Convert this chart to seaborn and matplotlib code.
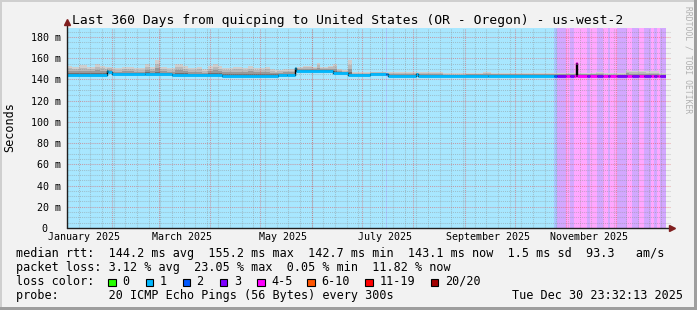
import numpy as np
import pandas as pd
import matplotlib
matplotlib.use("Agg")
import matplotlib.pyplot as plt
from matplotlib.patches import Rectangle
import seaborn as sns

# ---------------- data ----------------
end_time = pd.Timestamp("2025-12-30 23:32:13")
span_days = 360
start_time = end_time - pd.Timedelta(days=span_days)

# median rtt (ms) as step breakpoints: day offset from start, value
median_days = [0, 24, 24.8, 27, 47, 63, 93, 127, 132, 137, 137.6, 160, 169, 182,
               193, 210, 210.8, 253, 306, 306.6, 330, 355]
median_ms = [144.3, 148.0, 147.4, 145.0, 144.7, 144.0, 143.7, 144.2, 144.5, 150.5,
             147.8, 145.9, 144.0, 144.7, 143.3, 145.0, 143.5, 143.6, 155.2, 143.6,
             143.3, 143.1]

# upper edge of the smoke (ping spread), step breakpoints
smoke_days = [0, 3, 7, 12, 17, 20, 23, 27, 33, 40, 47, 50, 53, 56, 60, 65, 70, 73,
              78, 81, 85, 88, 91, 93, 100, 105, 109, 112, 119, 122, 125, 130, 137,
              142, 147, 150, 152, 157, 160, 162, 165, 169, 171, 182, 192, 222, 226,
              240, 250, 255, 272, 318, 322, 336, 338, 348, 356]
smoke_top = [153, 152, 154, 152, 155, 153, 152, 151, 152, 151, 155, 152, 158.5, 152,
             151, 155, 153, 151, 152, 150, 153, 155, 153, 151, 152, 151, 153, 151,
             152, 150, 149, 150, 152, 153, 152, 155.5, 152, 153, 155, 150, 149, 158,
             147.5, 147.5, 146.8, 147.5, 146.2, 146.4, 146.8, 146.4, 146.4, 147.2,
             146.2, 149.2, 148.4, 147.6, 146.2]

# packet-loss class runs (index into loss classes), start day of each run
loss_days = [0, 191.6, 192.2, 292.7, 294.5, 300, 302.5, 305, 312.5, 314.5, 318.5,
             322, 325, 326.5, 330.5, 336.5, 339.5, 343.5, 347, 351, 353, 354.5, 356.5]
loss_level = [1, 2, 1, 2, 3, 4, 3, 4, 3, 4, 3, 4, 3, 4, 3, 4, 3, 4, 3, 4, 3, 4, 3]

loss_labels = ["0", "1", "2", "3", "4-5", "6-10", "11-19", "20/20"]
loss_colors = ["#26ff00", "#00b8ff", "#0059ff", "#7e00ff", "#ff00ff", "#ff5500",
               "#ff0000", "#a10000"]

y_max = 189
y_ticks = [0, 20, 40, 60, 80, 100, 120, 140, 160, 180]

title = "Last 360 Days from quicping to United States (OR - Oregon) - us-west-2"
stat_lines = [
    "median rtt:  144.2 ms avg  155.2 ms max  142.7 ms min  143.1 ms now  1.5 ms sd  93.3   am/s",
    "packet loss: 3.12 % avg  23.05 % max  0.05 % min  11.82 % now",
    "loss color:",
    "probe:       20 ICMP Echo Pings (56 Bytes) every 300s",
]
stamp = "Tue Dec 30 23:32:13 2025"

# ---------------- style ----------------
sns.set_style("white")
plt.rcParams["font.family"] = ["DejaVu Sans Mono"]
plt.rcParams["text.color"] = "black"

W, H = 697, 310
fig = plt.figure(figsize=(W / 100, H / 100), dpi=100)
fig.patch.set_facecolor("#F2F2F2")

L, R, T, B = 67, 666, 27.5, 228
ax = fig.add_axes([L / W, 1 - B / H, (R - L) / W, (B - T) / H])
ax.set_facecolor("white")
for s in ax.spines.values():
    s.set_visible(False)
ax.set_xlim(0, span_days)
ax.set_ylim(0, y_max)


def light(c, a=0.34):
    rgb = np.array(matplotlib.colors.to_rgb(c))
    return tuple(1 - a * (1 - rgb))


# loss background bands
edges = list(loss_days) + [span_days]
for i, lvl in enumerate(loss_level):
    ax.axvspan(edges[i], edges[i + 1], color=light(loss_colors[lvl]), lw=0, zorder=0)

# smoke
bp2 = np.unique(np.concatenate([median_days, smoke_days, [span_days]]))
med2 = np.array(median_ms)[np.searchsorted(median_days, bp2, side="right") - 1]
top2 = np.array(smoke_top)[np.searchsorted(smoke_days, bp2, side="right") - 1]
top2 = np.maximum(top2, med2)
layers = [(1.0, 1.0, "#CFCFCF"), (0.7, 0.8, "#BABABA"), (0.42, 0.6, "#9A9A9A"),
          (0.2, 0.4, "#727272")]
for frac, below, col in layers:
    ax.fill_between(bp2, med2 - below, med2 + frac * (top2 - med2), step="post",
                    color=col, lw=0, zorder=1)

# grid (dotted, rrdtool-like)
dots = (0, (1, 1))
for yv in range(5, y_max, 5):
    if yv % 20 == 0:
        ax.axhline(yv, xmin=0, xmax=1.006, color="#DE4F4F", alpha=0.5, lw=0.75,
                   ls=dots, clip_on=False, zorder=3)
    else:
        ax.axhline(yv, xmin=0, xmax=1.006, color="#8F8F8F", alpha=0.45, lw=0.75,
                   ls=dots, clip_on=False, zorder=3)
to_day = lambda d: (d - start_time) / pd.Timedelta(days=1)
for d in pd.date_range(start_time.normalize(), end_time, freq="W-SUN"):
    x = to_day(d)
    if 0 < x < span_days:
        ax.axvline(x, color="#8F8F8F", alpha=0.45, lw=0.75, ls=dots, zorder=3)
for d in pd.date_range("2025-02-01", "2025-12-01", freq="MS"):
    ax.axvline(to_day(d), color="#DE4F4F", alpha=0.5, lw=0.75, ls=dots, zorder=3)

# median line: black steps underneath, loss-coloured flats on top
df = pd.DataFrame({"day": list(median_days) + [span_days],
                   "ms": list(median_ms) + [median_ms[-1]]})
sns.lineplot(data=df, x="day", y="ms", estimator=None, drawstyle="steps-post",
             color="black", lw=1.0, ax=ax, zorder=4)
bp = np.unique(np.concatenate([median_days, loss_days, [span_days]]))
s0, s1 = bp[:-1], bp[1:]
seg_val = np.array(median_ms)[np.searchsorted(median_days, s0, side="right") - 1]
seg_lvl = np.array(loss_level)[np.searchsorted(loss_days, s0, side="right") - 1]
ax.hlines(seg_val, s0, s1, colors=[loss_colors[l] for l in seg_lvl], lw=2.0, zorder=5)

# axes + arrows
ax.plot([0, 1.0105], [0, 0], transform=ax.transAxes, color="#1F1F1F", lw=1,
        clip_on=False, zorder=6)
ax.plot([0, 0], [0, 1.028], transform=ax.transAxes, color="#1F1F1F", lw=1,
        clip_on=False, zorder=6)
ax.plot([1.0105], [0], transform=ax.transAxes, marker=">", ms=4.5, color="#801F1F",
        clip_on=False, zorder=7)
ax.plot([0], [1.028], transform=ax.transAxes, marker="^", ms=4.5, color="#801F1F",
        clip_on=False, zorder=7)

# ticks
xt = [pd.Timestamp(2025, m, 15) for m in (1, 3, 5, 7, 9, 11)]
ax.set_xticks([to_day(d) for d in xt])
ax.set_xticklabels([d.strftime("%B %Y") for d in xt])
ax.set_yticks(y_ticks)
ax.set_yticklabels([""] + [f"{v} m" for v in y_ticks[1:]])
ax.tick_params(axis="x", length=0, labelsize=7.2, pad=3.2, colors="black")
ax.tick_params(axis="y", length=0, labelsize=7.2, pad=4.6, colors="black")
ax.set_xlabel("")
ax.set_ylabel("")


def ftext(px, py, s, **kw):
    fig.text(px / W, 1 - py / H, s, **kw)


# zero label (rrdtool leaves room for the unit suffix)
ftext(47.5, 228, "0", fontsize=7.2, ha="right", va="center_baseline")

ftext(347.5, 24, title, fontsize=9.4, ha="center", va="baseline")
ftext(10, 127, "Seconds", fontsize=8.5, rotation=90, ha="center", va="center")
ftext(688, 60, "RRDTOOL / TOBI OETIKER", fontsize=5.8, rotation=270,
      ha="center", va="center", color="#B0B0B0")

base = [257, 271, 285, 299]
for s, yb in zip(stat_lines, base):
    ftext(15.5, yb, s, fontsize=8.5, ha="left", va="baseline")
ftext(512.5, base[3], stamp, fontsize=8.5, ha="left", va="baseline")

box_x = [108.3, 145.7, 182.7, 220, 257.3, 307.3, 365, 430.7]
lab_x = [122.6, 159.3, 196.6, 234.3, 271, 321, 379.3, 445]
for bx, lx, lab, col in zip(box_x, lab_x, loss_labels, loss_colors):
    fig.add_artist(Rectangle((bx / W, 1 - 286 / H), 7.5 / W, 7.5 / H,
                             transform=fig.transFigure, facecolor=col,
                             edgecolor="black", lw=0.8))
    ftext(lx, base[2], lab, fontsize=8.5, ha="left", va="baseline")

# 3D frame
fig.add_artist(Rectangle((0, 1 - 2 / H), 1, 2 / H, transform=fig.transFigure,
                         color="#CFCFCF", lw=0))
fig.add_artist(Rectangle((0, 0), 2 / W, 1, transform=fig.transFigure,
                         color="#CFCFCF", lw=0))
fig.add_artist(Rectangle((0, 0), 1, 3 / H, transform=fig.transFigure,
                         color="#9E9E9E", lw=0))
fig.add_artist(Rectangle((1 - 3 / W, 0), 3 / W, 1, transform=fig.transFigure,
                         color="#9E9E9E", lw=0))

fig.savefig("out.png", dpi=100, facecolor=fig.get_facecolor())
